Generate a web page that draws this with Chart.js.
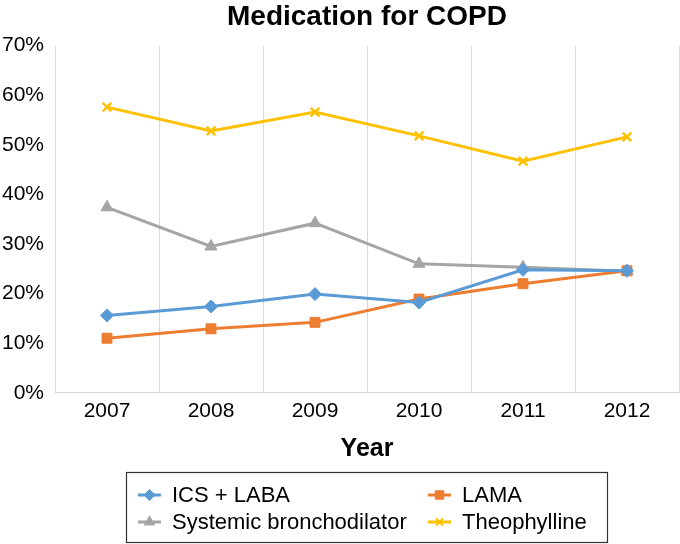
<!DOCTYPE html>
<html>
<head>
<meta charset="utf-8">
<script src="https://cdn.jsdelivr.net/npm/chart.js@4/dist/chart.umd.min.js"></script>
<style>
  html, body { margin: 0; padding: 0; background: #fff; overflow: hidden; }
  #wrap { width: 680px; height: 544px; position: relative; }
</style>
</head>
<body>
<div id="wrap"><canvas id="copd"></canvas></div>
<script>
const years = ['2007', '2008', '2009', '2010', '2011', '2012'];
const icsLaba = [15.6, 17.4, 19.9, 18.2, 24.8, 24.6];
const lama = [11.0, 12.9, 14.2, 18.9, 22.0, 24.6];
const systemic = [37.4, 29.5, 34.2, 26.0, 25.3, 24.5];
const theophylline = [57.6, 52.8, 56.6, 51.8, 46.7, 51.6];
const yTicks = [0, 10, 20, 30, 40, 50, 60, 70];

const FONT = '"Liberation Sans", Arial, sans-serif';

function series (label, data, color, style, radius) {
  return {
    label: label,
    data: data,
    borderColor: color,
    backgroundColor: color,
    borderWidth: 3,
    pointStyle: style,
    pointRadius: radius,
    pointHoverRadius: radius,
    pointBorderWidth: style === 'crossRot' ? 2.5 : 1,
    pointBorderColor: color,
    pointBackgroundColor: color,
    tension: 0
  };
}

// legend box drawn by hand so it can be a 2 x 2 grid with a frame
const boxLegend = {
  id: 'boxLegend',
  afterDraw (chart) {
    const ctx = chart.ctx;
    const ds = chart.data.datasets;
    const cols = [138, 428];
    const rows = [495, 522];
    ctx.save();
    ctx.strokeStyle = '#333';
    ctx.lineWidth = 1.2;
    ctx.strokeRect(126.5, 472.5, 481, 70);
    ctx.font = '22px ' + FONT;
    ctx.textBaseline = 'middle';
    ds.forEach(function (d, n) {
      const x = cols[n % 2];
      const y = rows[Math.floor(n / 2)];
      ctx.strokeStyle = d.borderColor;
      ctx.lineWidth = 3;
      ctx.beginPath();
      ctx.moveTo(x, y);
      ctx.lineTo(x + 23, y);
      ctx.stroke();
      ctx.fillStyle = d.borderColor;
      ctx.lineWidth = d.pointStyle === 'crossRot' ? 2 : 1;
      Chart.helpers.drawPoint(ctx, {
        pointStyle: d.pointStyle, rotation: 0, radius: d.pointRadius - 1, borderWidth: ctx.lineWidth
      }, x + 11.5, y);
      ctx.fillStyle = '#000';
      ctx.fillText(d.label, x + 34, y + 1);
    });
    ctx.restore();
  }
};

new Chart(document.getElementById('copd'), {
  type: 'line',
  data: {
    labels: years,
    datasets: [
      series('ICS + LABA', icsLaba, '#5B9BD5', 'rectRot', 6.5),
      series('LAMA', lama, '#ED7D31', 'rect', 7),
      series('Systemic bronchodilator', systemic, '#A5A5A5', 'triangle', 7),
      series('Theophylline', theophylline, '#FFC000', 'crossRot', 6)
    ]
  },
  options: {
    responsive: true,
    maintainAspectRatio: false,
    animation: false,
    layout: { autoPadding: false, padding: { left: 0, right: 1, top: 0, bottom: 80 } },
    plugins: {
      legend: { display: false },
      tooltip: { enabled: false },
      title: {
        display: true,
        fullSize: false,
        text: 'Medication for COPD',
        color: '#000',
        font: { family: FONT, size: 28, weight: 'bold' },
        padding: { top: 0, bottom: 12 }
      }
    },
    scales: {
      x: {
        offset: true,
        afterFit (scale) { scale.paddingLeft = 0; scale.paddingRight = 0; },
        grid: { display: true, color: '#d9d9d9', drawTicks: false, offset: true },
        border: { display: true, color: '#d9d9d9' },
        ticks: { color: '#000', padding: 6, font: { family: FONT, size: 21 } },
        title: {
          display: true,
          text: 'Year',
          color: '#000',
          font: { family: FONT, size: 25, weight: 'bold' },
          padding: { top: 4, bottom: 0 }
        }
      },
      y: {
        min: 0,
        max: 70,
        grid: { display: false, drawTicks: false },
        border: { display: false },
        afterFit (scale) { scale.width = 55; },
        afterBuildTicks (scale) { scale.ticks = yTicks.map(v => ({ value: v })); },
        ticks: {
          color: '#000',
          padding: 11,
          font: { family: FONT, size: 21 },
          callback: v => v + '%'
        }
      }
    }
  },
  plugins: [boxLegend]
});
</script>
</body>
</html>
